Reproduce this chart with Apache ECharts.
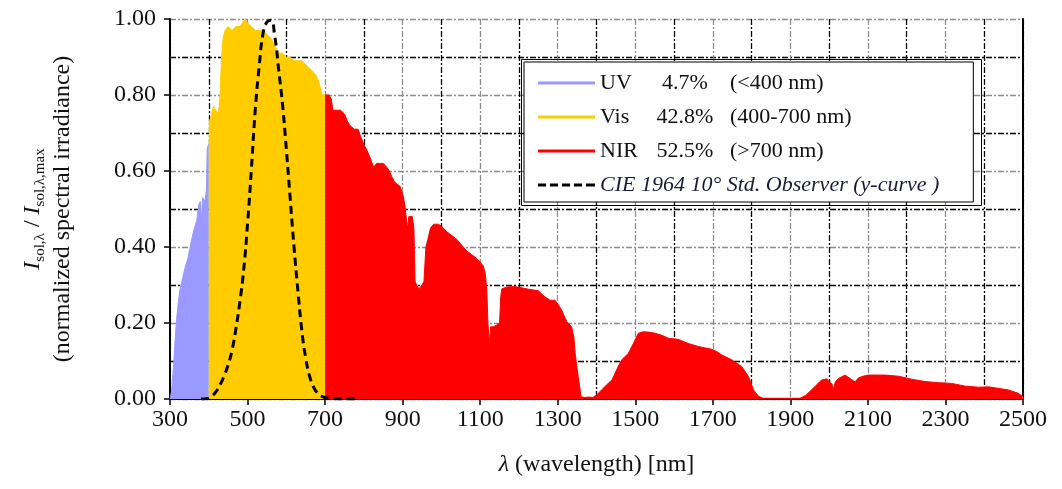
<!DOCTYPE html>
<html>
<head>
<meta charset="utf-8">
<script src="https://cdn.jsdelivr.net/npm/echarts@6/dist/echarts.min.js"></script>
<style>
  html, body { margin: 0; padding: 0; background: #fff; }
  #chart { width: 1062px; height: 489px; }
</style>
</head>
<body>
<div id="chart"></div>
<script>
// wavelengths [nm] and normalized irradiance
const uvWl  = [300, 304, 309, 313, 317, 322, 326, 333, 340, 346, 352, 358, 363, 369, 374, 378, 381, 384, 390, 394, 396, 400];
const uvVal = [0, 0.02, 0.085, 0.15, 0.21, 0.26, 0.29, 0.32, 0.35, 0.37, 0.40, 0.43, 0.45, 0.47, 0.51, 0.52, 0.47, 0.53, 0.52, 0.55, 0.66, 0.67];

const visWl  = [400, 405, 412, 418, 425, 429, 433, 437, 442, 450, 460, 470, 480, 487, 493, 500, 510, 520, 530, 540, 550, 560, 570, 580, 590, 600, 610, 620, 630, 640, 650, 660, 670, 678, 685, 692, 700];
const visVal = [0.73, 0.74, 0.77, 0.76, 0.75, 0.80, 0.90, 0.95, 0.97, 0.98, 0.97, 0.98, 0.98, 0.99, 1.00, 0.99, 0.98, 0.97, 0.97, 0.97, 0.96, 0.95, 0.93, 0.91, 0.91, 0.90, 0.90, 0.89, 0.89, 0.89, 0.88, 0.87, 0.86, 0.85, 0.83, 0.80, 0.80];

const nirWl = [700, 710, 716, 720, 730, 740, 750, 758, 764, 775, 785, 792, 800, 810, 818, 825, 833, 842, 850, 859, 866, 872, 880, 893, 900, 906, 910, 913, 916, 925, 929, 932, 936, 942, 950, 955, 960, 965, 972, 980, 992, 1000, 1014, 1027, 1040, 1052, 1065, 1078, 1091, 1100, 1108, 1113, 1117, 1120, 1124, 1127, 1134, 1143, 1150, 1153, 1156, 1170, 1190, 1210, 1224, 1250, 1260, 1267, 1280, 1293, 1300, 1310, 1323, 1336, 1342, 1345, 1350, 1353, 1357, 1360, 1370, 1380, 1390, 1400, 1413, 1430, 1440, 1448, 1458, 1465, 1482, 1495, 1508, 1520, 1534, 1551, 1568, 1585, 1610, 1637, 1663, 1697, 1710, 1723, 1749, 1775, 1792, 1805, 1818, 1830, 1880, 1925, 1940, 1963, 1975, 1981, 1994, 2000, 2007, 2011, 2016, 2024, 2041, 2054, 2067, 2075, 2084, 2101, 2144, 2179, 2213, 2247, 2282, 2316, 2350, 2385, 2411, 2436, 2462, 2488, 2500];
const nirVal = [0.80, 0.80, 0.79, 0.76, 0.76, 0.76, 0.75, 0.73, 0.72, 0.71, 0.71, 0.69, 0.67, 0.65, 0.63, 0.61, 0.62, 0.62, 0.62, 0.61, 0.60, 0.585, 0.57, 0.56, 0.54, 0.51, 0.47, 0.45, 0.48, 0.48, 0.45, 0.31, 0.30, 0.29, 0.30, 0.31, 0.40, 0.42, 0.45, 0.46, 0.46, 0.455, 0.44, 0.43, 0.42, 0.405, 0.39, 0.38, 0.37, 0.36, 0.35, 0.33, 0.29, 0.20, 0.14, 0.19, 0.19, 0.195, 0.20, 0.27, 0.29, 0.295, 0.296, 0.292, 0.289, 0.285, 0.275, 0.269, 0.26, 0.26, 0.25, 0.234, 0.204, 0.19, 0.16, 0.12, 0.08, 0.059, 0.03, 0.006, 0.004, 0.005, 0.004, 0.01, 0.024, 0.041, 0.05, 0.068, 0.09, 0.103, 0.12, 0.146, 0.173, 0.177, 0.176, 0.173, 0.168, 0.16, 0.157, 0.146, 0.138, 0.131, 0.125, 0.116, 0.103, 0.085, 0.059, 0.024, 0.007, 0.002, 0.002, 0.002, 0.01, 0.032, 0.045, 0.05, 0.053, 0.045, 0.04, 0.025, 0.045, 0.054, 0.063, 0.054, 0.045, 0.055, 0.059, 0.063, 0.063, 0.06, 0.052, 0.046, 0.043, 0.041, 0.034, 0.031, 0.032, 0.028, 0.024, 0.015, 0.006];

// CIE 1964 10 deg y-bar curve
const cieWl  = [380, 390, 400, 410, 420, 430, 440, 450, 460, 470, 480, 490, 500, 510, 520, 530, 540, 550, 560, 570, 580, 590, 600, 610, 620, 630, 640, 650, 660, 670, 680, 690, 700, 710, 720, 740, 780];
const cieVal = [0, 0.0003, 0.002, 0.009, 0.021, 0.039, 0.062, 0.090, 0.128, 0.185, 0.254, 0.339, 0.461, 0.607, 0.762, 0.875, 0.962, 0.992, 0.997, 0.956, 0.869, 0.777, 0.658, 0.528, 0.398, 0.284, 0.180, 0.108, 0.060, 0.032, 0.016, 0.008, 0.004, 0.002, 0.001, 0, 0];

const xTickLabels = [300, 500, 700, 900, 1100, 1300, 1500, 1700, 1900, 2100, 2300, 2500];
const yTickLabels = [0, 0.2, 0.4, 0.6, 0.8, 1.0];

const seriesNames = ['UV', 'Vis', 'NIR', 'CIE'];
const seriesShares = ['4.7%', '42.8%', '52.5%'];
const seriesRanges = ['(<400 nm)', '(400-700 nm)', '(>700 nm)'];

const SERIF = '"Liberation Serif", "Times New Roman", serif';
const DASH_ICON = 'path://M0,0h8v3h-8z M12,0h8v3h-8z M24,0h8v3h-8z M36,0h8v3h-8z M48,0h9v3h-9z';

const zip = (xs, ys) => xs.map((x, i) => [x, ys[i]]);

const chart = echarts.init(document.getElementById('chart'));

const areaSeries = (name, xs, ys, color) => ({
  name: name,
  type: 'line',
  data: zip(xs, ys),
  showSymbol: false,
  symbol: 'none',
  lineStyle: { color: color, width: 1 },
  itemStyle: { color: color },
  areaStyle: { color: color, opacity: 1 },
  z: 3,
});

const option = {
  animation: false,
  grid: { left: 170, right: 39, top: 19, bottom: 90, outerBoundsMode: 'none' },
  legend: {
    orient: 'vertical',
    left: 524,
    top: 62,
    data: seriesNames.map((n) => ({ name: n, icon: n === 'CIE' ? DASH_ICON : 'rect' })),
    symbolKeepAspect: false,
    backgroundColor: '#fff',
    borderColor: '#000',
    borderWidth: 1,
    padding: [9, 34, 5, 14],
    itemWidth: 57,
    itemHeight: 3,
    itemGap: 10,
    textStyle: {
      fontFamily: SERIF,
      fontSize: 22,
      color: '#111',
      lineHeight: 24,
      rich: {
        n: { fontFamily: SERIF, fontSize: 22, color: '#111', width: 50 },
        p: { fontFamily: SERIF, fontSize: 22, color: '#111', width: 70, align: 'right' },
        r: { fontFamily: SERIF, fontSize: 22, color: '#111', padding: [0, 0, 0, 10] },
        it: { fontFamily: SERIF, fontSize: 22, color: '#1a1a3a', fontStyle: 'italic' },
      },
    },
    formatter: function (name) {
      const i = seriesNames.indexOf(name);
      if (name === 'CIE') {
        return '{it|CIE 1964 10° Std. Observer (y-curve )}';
      }
      return '{n|' + name + '}{p|' + seriesShares[i] + '}{r|' + seriesRanges[i] + '}';
    },
    z: 10,
  },
  graphic: [{
    type: 'rect',
    shape: { x: 521.5, y: 59.5, width: 460, height: 146 },
    style: { fill: 'none', stroke: '#000', lineWidth: 1 },
    z: 100,
  }],
  xAxis: [{
    type: 'value',
    min: 300,
    max: 2500,
    interval: 100,
    position: 'bottom',
    axisLine: { lineStyle: { color: '#000', width: 2 } },
    axisTick: { show: true, customValues: xTickLabels, length: 6, lineStyle: { color: '#000', width: 1.5 } },
    axisLabel: {
      customValues: xTickLabels, fontFamily: SERIF, fontSize: 24, color: '#111', margin: 9,
      formatter: function (v) { return String(v); },
    },
    splitLine: { show: false },
    name: '{l|λ} (wavelength) [nm]',
    nameLocation: 'middle',
    nameGap: 54,
    nameTextStyle: {
      fontFamily: SERIF, fontSize: 24, color: '#111',
      rich: { l: { fontFamily: SERIF, fontSize: 24, color: '#111', fontStyle: 'italic' } },
    },
  }, {
    type: 'value',
    min: 300,
    max: 2500,
    interval: 100,
    position: 'top',
    axisLine: { lineStyle: { color: '#000', width: 2 } },
    axisTick: { show: false },
    axisLabel: { show: false },
    splitLine: { show: true, lineStyle: { color: ['#8c8c8c', '#000'], type: [6, 2, 2, 2], width: 1.3 } },
  }],
  yAxis: [{
    type: 'value',
    min: 0,
    max: 1,
    interval: 0.2,
    position: 'left',
    axisLine: { show: true, lineStyle: { color: '#000', width: 2 } },
    axisTick: { show: true, length: 6, lineStyle: { color: '#000', width: 1.5 } },
    axisLabel: {
      fontFamily: SERIF, fontSize: 24, color: '#111', margin: 14,
      formatter: function (v) { return v.toFixed(2); },
    },
    splitLine: { show: true, lineStyle: { color: '#8c8c8c', type: [6, 2, 2, 2], width: 1.3 } },
    minorTick: { show: false, splitNumber: 2 },
    minorSplitLine: { show: true, lineStyle: { color: '#000', type: [6, 2, 2, 2], width: 1.3 } },
    name: '{i|I}{s|sol,λ}{n| / }{i|I}{s|sol,λ,max}\n{n|(normalized spectral irradiance)}',
    nameLocation: 'middle',
    nameRotate: 90,
    nameGap: 92,
    nameTextStyle: {
      fontFamily: SERIF, fontSize: 24, color: '#111', lineHeight: 30,
      rich: {
        i: { fontFamily: SERIF, fontSize: 24, color: '#111', fontStyle: 'italic', lineHeight: 30 },
        s: { fontFamily: SERIF, fontSize: 15, color: '#111', verticalAlign: 'bottom', lineHeight: 30 },
        n: { fontFamily: SERIF, fontSize: 24, color: '#111', lineHeight: 30 },
      },
    },
  }, {
    type: 'value',
    min: 0,
    max: 1,
    position: 'right',
    axisLine: { show: true, lineStyle: { color: '#000', width: 2 } },
    axisTick: { show: false },
    axisLabel: { show: false },
    splitLine: { show: false },
  }],
  series: [
    areaSeries('UV', uvWl, uvVal, '#9999ff'),
    areaSeries('Vis', visWl, visVal, '#ffcc00'),
    areaSeries('NIR', nirWl, nirVal, '#ff0000'),
    {
      name: 'CIE',
      type: 'line',
      data: zip(cieWl, cieVal),
      smooth: true,
      showSymbol: false,
      symbol: 'none',
      lineStyle: { color: '#000', width: 3, type: [8, 5] },
      itemStyle: { color: '#000' },
      z: 4,
    },
  ],
};

chart.setOption(option);
</script>
</body>
</html>
